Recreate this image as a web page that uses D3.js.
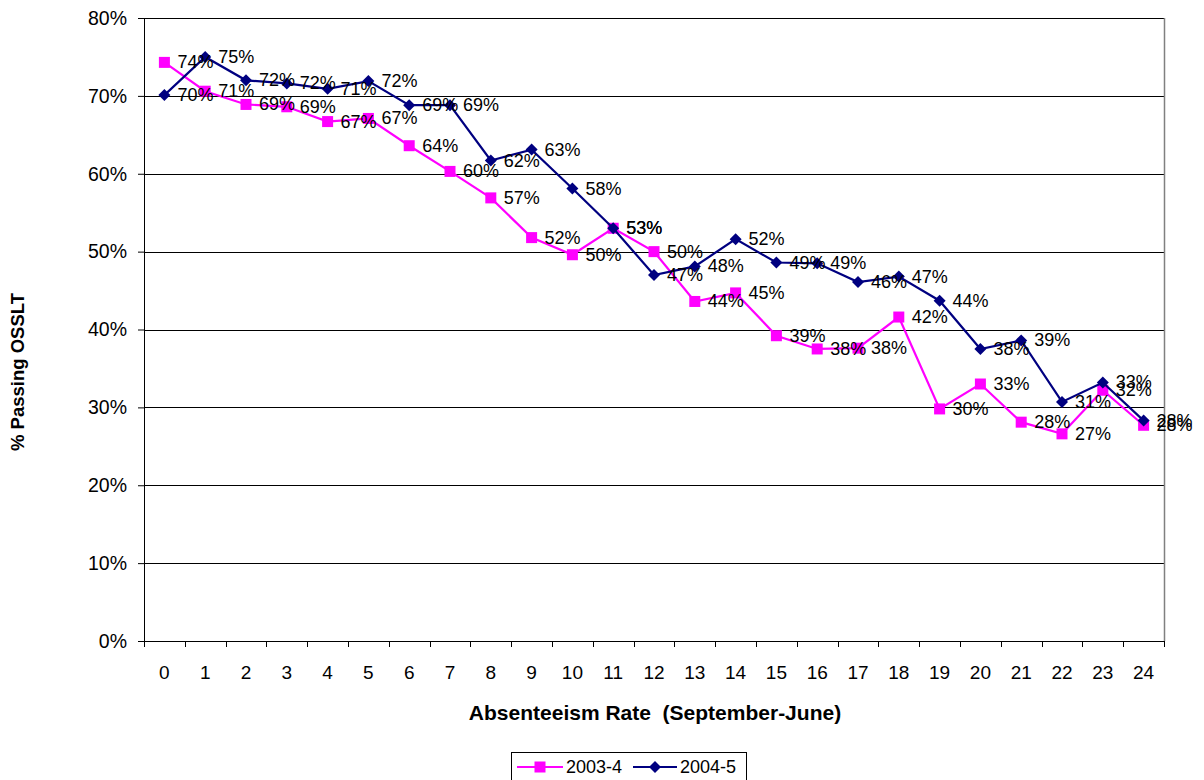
<!DOCTYPE html>
<html>
<head>
<meta charset="utf-8">
<script src="https://cdn.jsdelivr.net/npm/d3@7"></script>
<style>
  html, body { margin: 0; padding: 0; background: #fff; }
  svg { display: block; font-family: "Liberation Sans", Arial, sans-serif; }
</style>
</head>
<body>
<svg id="chart" width="1204" height="780"></svg>
<script>
// ---- data ----
const categories = ["0","1","2","3","4","5","6","7","8","9","10","11","12","13","14","15","16","17","18","19","20","21","22","23","24"];
const series2003 = [0.743,0.706,0.689,0.686,0.667,0.671,0.636,0.603,0.569,0.518,0.496,0.530,0.500,0.436,0.447,0.392,0.375,0.376,0.416,0.298,0.330,0.281,0.266,0.322,0.277];
const series2004 = [0.701,0.750,0.720,0.716,0.709,0.719,0.688,0.688,0.617,0.631,0.581,0.530,0.470,0.481,0.516,0.486,0.485,0.461,0.468,0.437,0.375,0.386,0.307,0.332,0.283];
const yTicks = [0,0.1,0.2,0.3,0.4,0.5,0.6,0.7,0.8];
const seriesNames = ["2003-4","2004-5"];
const seriesColors = ["#FF00FF","#000080"];
const xTitle = "Absenteeism Rate\u00a0\u00a0(September-June)";
const yTitle = "% Passing OSSLT";

(function () {
// ---- layout ----
const svg = d3.select("#chart");
const pLeft = 144, pRight = 1164, pTop = 18, pBottom = 641;

const x = d3.scaleBand().domain(categories).range([pLeft, pRight]);
const y = d3.scaleLinear().domain([0, 0.8]).range([pBottom, pTop]);
const pct = d3.format(".0%");

// gridlines
svg.append("g").selectAll("line").data(yTicks.filter(t => t > 0)).join("line")
  .attr("x1", pLeft).attr("x2", pRight)
  .attr("y1", d => Math.round(y(d)) + 0.5).attr("y2", d => Math.round(y(d)) + 0.5)
  .attr("stroke", "#000").attr("stroke-width", 1);

// plot area right border
svg.append("line").attr("x1", pRight + 0.5).attr("x2", pRight + 0.5)
  .attr("y1", pTop).attr("y2", pBottom).attr("stroke", "#808080").attr("stroke-width", 1.5);

// y axis
const yAxis = svg.append("g").attr("transform", `translate(${pLeft},0)`)
  .call(d3.axisLeft(y).tickValues(yTicks).tickFormat(pct).tickSize(6).tickPadding(11));
yAxis.select(".domain").attr("stroke", "#000").attr("d", `M0.5,${pTop}V${pBottom}`);
yAxis.selectAll(".tick line").attr("stroke", "#000");
yAxis.selectAll("text").attr("font-size", 19.5).attr("fill", "#000")
  .attr("font-family", "Liberation Sans, Arial, sans-serif");

// x axis
const xAxis = svg.append("g").attr("transform", `translate(0,${pBottom})`)
  .call(d3.axisBottom(x).tickSize(0).tickPadding(0));
xAxis.select(".domain").attr("stroke", "#000").attr("d", `M${pLeft},0.5H${pRight}`);
xAxis.selectAll("text").attr("font-size", 19).attr("fill", "#000")
  .attr("font-family", "Liberation Sans, Arial, sans-serif")
  .attr("y", 31).attr("dy", null).attr("dominant-baseline", "central");
// boundary tick marks
const boundaries = categories.map(c => x(c)).concat([x(categories[categories.length - 1]) + x.bandwidth()]);
xAxis.append("g").selectAll("line").data(boundaries).join("line")
  .attr("x1", d => Math.round(d) + 0.5).attr("x2", d => Math.round(d) + 0.5)
  .attr("y1", 0).attr("y2", 6).attr("stroke", "#000");

// lines + markers
const cx = c => x(c) + x.bandwidth() / 2;
const allSeries = [series2003, series2004];
const lineGen = d3.line().x((d, i) => cx(categories[i])).y(d => y(d));

allSeries.forEach((vals, si) => {
  const g = svg.append("g");
  g.append("path").datum(vals).attr("d", lineGen)
    .attr("fill", "none").attr("stroke", seriesColors[si]).attr("stroke-width", 2.2);
  if (si === 0) {
    g.selectAll("rect").data(vals).join("rect")
      .attr("x", (d, i) => cx(categories[i]) - 5.5).attr("y", d => y(d) - 5.5)
      .attr("width", 11).attr("height", 11).attr("fill", seriesColors[si]);
  } else {
    g.selectAll("path.m").data(vals).join("path").attr("class", "m")
      .attr("transform", (d, i) => `translate(${cx(categories[i])},${y(d)})`)
      .attr("d", "M0,-6L6,0L0,6L-6,0Z").attr("fill", seriesColors[si]);
  }
});

// data labels
allSeries.forEach((vals, si) => {
  svg.append("g").selectAll("text").data(vals).join("text")
    .attr("x", (d, i) => cx(categories[i]) + 13)
    .attr("y", d => y(d))
    .attr("dominant-baseline", "central")
    .attr("font-size", 18).attr("fill", "#000")
    .text(d => pct(d));
});

// axis titles
svg.append("text").attr("x", 655).attr("y", 712)
  .attr("text-anchor", "middle").attr("dominant-baseline", "central")
  .attr("font-size", 21).attr("font-weight", "bold").text(xTitle);
svg.append("text").attr("transform", "translate(17,372) rotate(-90)")
  .attr("text-anchor", "middle").attr("dominant-baseline", "central")
  .attr("font-size", 18.5).attr("font-weight", "bold").text(yTitle);

// legend
const lg = svg.append("g");
lg.append("rect").attr("x", 511.5).attr("y", 752.5).attr("width", 235).attr("height", 40)
  .attr("fill", "#fff").attr("stroke", "#000").attr("stroke-width", 1);
const legendItems = [
  { name: seriesNames[0], color: seriesColors[0], x0: 517, x1: 563, tx: 566, shape: "square" },
  { name: seriesNames[1], color: seriesColors[1], x0: 633, x1: 677, tx: 680, shape: "diamond" }
];
legendItems.forEach(it => {
  const ly = 767;
  lg.append("line").attr("x1", it.x0).attr("x2", it.x1).attr("y1", ly).attr("y2", ly)
    .attr("stroke", it.color).attr("stroke-width", 2.2);
  const mx = (it.x0 + it.x1) / 2;
  if (it.shape === "square") {
    lg.append("rect").attr("x", mx - 5.5).attr("y", ly - 5.5).attr("width", 11).attr("height", 11).attr("fill", it.color);
  } else {
    lg.append("path").attr("transform", `translate(${mx},${ly})`).attr("d", "M0,-6L6,0L0,6L-6,0Z").attr("fill", it.color);
  }
  lg.append("text").attr("x", it.tx).attr("y", ly).attr("dominant-baseline", "central")
    .attr("font-size", 18).attr("fill", "#000").text(it.name);
});
})();
</script>
</body>
</html>
